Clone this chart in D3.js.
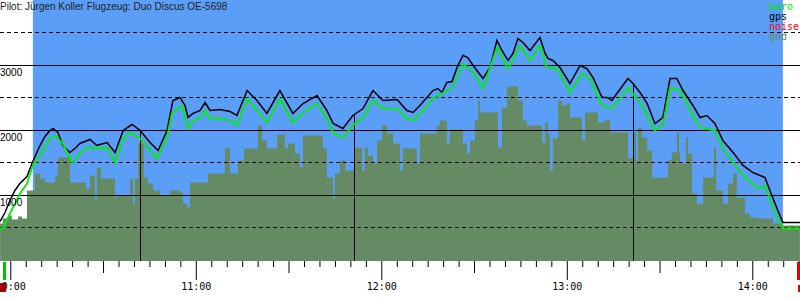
<!DOCTYPE html>
<html>
<head>
<meta charset="utf-8">
<script src="https://cdn.jsdelivr.net/npm/d3@7"></script>
<style>
  body { margin: 0; background: #fff; }
  svg { display: block; }
</style>
</head>
<body>
<div id="chart"></div>
<script>
// times are minutes after 10:00, altitudes in metres
var gpsT   = [-3.3,-1.7,-0.1,1.5,3.1,5.4,7.0,9.6,11.2,12.8,13.8,15.4,17.0,19.3,20.9,22.5,25.8,28.0,29.0,31.3,33.9,36.5,39.4,42.0,45.2,47.8,50.7,52.6,54.9,56.5,57.5,59.1,61.4,63.0,64.6,67.8,71.1,73.3,76.6,79.8,83.0,87.2,91.4,94.7,99.2,102.4,104.4,107.6,110.8,114.1,117.3,120.5,125.1,128.3,130.3,132.5,136.7,138.3,139.6,141.2,142.9,144.5,146.4,148.0,149.7,152.9,155.2,157.4,159.0,161.0,162.6,164.2,165.8,168.1,171.3,173.0,173.9,175.5,177.8,181.0,184.3,186.5,188.5,191.4,193.0,194.6,196.2,199.8,201.4,203.7,206.0,208.5,211.1,213.4,215.6,217.6,220.8,223.1,225.3,227.9,230.5,233.8,237.0,240.2,244.1,245.7,248.0,249.9,250.9,255.4];
var gpsAlt = [600,738,923,1077,1185,1292,1492,1769,1908,2000,2031,1969,1769,1662,1723,1800,1862,1769,1785,1815,1662,2000,2092,2000,1815,1692,2000,2462,2508,2385,2200,2262,2308,2431,2308,2323,2292,2231,2615,2462,2262,2615,2262,2415,2538,2308,2108,2031,2231,2338,2615,2462,2477,2308,2277,2385,2615,2646,2585,2738,2754,2969,3154,3123,3000,2800,2969,3385,3231,3077,3185,3415,3354,3231,3431,3185,3108,3077,2969,2723,3000,2954,2815,2508,2508,2462,2569,2800,2723,2585,2415,2108,2200,2800,2800,2615,2385,2200,2231,2108,1846,1662,1462,1354,1277,1077,800,585,585,585];

var baroT   = [-3.3,-2.4,-0.1,3.1,5.4,7.3,9.6,12.8,14.5,17.0,20.0,23.5,25.8,29.0,31.3,33.9,36.5,38.7,42.0,47.4,50.7,52.3,55.5,57.5,59.1,61.4,63.0,64.6,67.8,71.1,73.3,76.6,79.8,83.0,87.2,91.4,94.7,99.2,102.4,104.4,107.6,110.8,114.1,117.3,120.5,125.1,128.3,130.3,133.5,136.7,143.2,146.4,149.7,152.9,157.4,161.0,164.9,168.1,171.3,173.6,176.8,181.0,184.9,187.5,191.4,194.6,197.2,199.8,203.7,208.5,211.1,213.4,216.6,220.8,223.1,227.9,230.5,237.0,241.8,244.1,246.7,249.9,255.4];
var baroAlt = [492,492,723,1031,1185,1462,1615,1877,1923,1800,1508,1692,1738,1723,1738,1508,1877,1969,1877,1569,1892,2262,2385,2031,2154,2185,2308,2185,2185,2154,2077,2492,2308,2123,2492,2123,2277,2415,2185,1969,1892,2077,2200,2462,2338,2338,2185,2154,2308,2492,2662,3031,2892,2646,3277,2954,3308,3077,3308,2969,2954,2585,2877,2800,2385,2338,2492,2662,2431,2000,2092,2662,2615,2231,2046,2000,1723,1308,1108,1154,815,492,492];

var gndT   = [-3.3,-2.4,-0.7,0.5,2.5,3.8,5.4,8.0,9.6,11.2,14.5,15.4,19.3,24.5,25.8,27.4,28.0,29.3,33.9,34.5,38.7,39.7,40.3,41.3,43.2,44.5,46.2,48.4,51.7,54.9,55.9,57.2,58.1,64.0,69.4,71.1,73.6,75.6,80.1,81.4,83.0,86.3,88.8,89.8,92.1,93.7,94.7,101.1,102.4,104.4,105.0,106.6,108.3,111.5,113.8,114.7,115.7,117.3,118.6,120.2,121.8,123.8,126.0,127.0,131.5,132.5,138.0,139.0,141.2,142.2,146.4,147.7,148.7,150.3,151.3,151.9,157.7,159.0,160.7,164.2,165.8,167.1,172.0,173.0,173.9,174.6,175.5,177.2,178.4,180.1,181.0,184.9,185.9,190.1,192.0,194.0,199.8,201.4,202.4,203.0,204.3,206.0,207.6,212.7,214.0,215.6,216.3,216.6,218.5,219.2,220.5,222.1,224.1,227.6,228.3,230.5,232.1,233.8,235.0,237.6,239.2,241.8,246.7,249.9,255.4];
var gndAlt = [569,646,692,631,677,646,1077,1338,1262,1200,1308,1585,1200,1108,1308,954,1431,1262,969,1000,1262,877,1262,1800,1277,1185,1077,1000,1077,1046,877,815,1200,1338,1723,1338,1538,1723,2077,1846,1723,1938,1723,1800,1646,1431,1923,1723,1277,954,1338,1538,1385,1738,1385,1738,1615,1492,1846,2077,1954,1800,1385,1723,1492,1954,2077,2154,1800,2015,1800,1646,1846,2154,2462,2277,1738,2354,2677,2462,2154,2077,1815,2123,1954,1385,1877,2462,2385,2415,2200,1846,2277,2123,2154,1969,1569,1969,1538,2046,1892,1692,1277,1538,1662,1969,1662,1492,1892,1646,1031,877,1277,1738,1077,877,1185,1338,969,723,662,646,569,538,538];

var turnpoints = [42.0, 111.2, 201.4];
var taskWindow = [7.3, 249.9];
var takeoff = -2.0, landing = 254.9;
var gridSolid = [1000, 2000, 3000];
var gridDashed = [500, 1500, 2500, 3500];
var legendNames = ['baro', 'gps', 'noise', 'gnd'];
var legendColors = ['#00e000', '#000000', '#ff0000', '#658b64'];
var title = 'Pilot: Jürgen Koller Flugzeug: Duo Discus OE-5698';

var width = 800, height = 300, bottom = 261;
var day = new Date(2000, 0, 1, 10, 0, 0);
function at(m) { return new Date(+day + m * 60000); }
function zip(t, a) { return t.map(function (d, i) { return [d, a[i]]; }); }

var svg = d3.select('#chart').append('svg')
    .attr('width', width)
    .attr('height', height);

var x = d3.scaleTime().domain([at(-3.33), at(255.43)]).range([0, width]);
var y = d3.scaleLinear().domain([0, 4000]).range([260.5, 0.5]);

// sky during the task
svg.append('rect')
    .attr('x', x(at(taskWindow[0])))
    .attr('y', 0)
    .attr('width', x(at(taskWindow[1])) - x(at(taskWindow[0])))
    .attr('height', bottom)
    .attr('fill', '#5b9ef7');

// ground elevation
var gndArea = d3.area()
    .x(function (d) { return x(at(d[0])); })
    .y0(bottom)
    .y1(function (d) { return y(d[1]); })
    .curve(d3.curveStepAfter);
svg.append('path').datum(zip(gndT, gndAlt))
    .attr('d', gndArea)
    .attr('fill', '#658b64');

// grid
svg.selectAll('line.solid').data(gridSolid).enter().append('line')
    .attr('class', 'solid')
    .attr('x1', 0).attr('x2', width)
    .attr('y1', function (d) { return Math.round(y(d)) - 0.5; })
    .attr('y2', function (d) { return Math.round(y(d)) - 0.5; })
    .attr('stroke', '#000');
svg.selectAll('line.dashed').data(gridDashed).enter().append('line')
    .attr('class', 'dashed')
    .attr('x1', 0).attr('x2', width)
    .attr('y1', function (d) { return Math.round(y(d)) - 0.5; })
    .attr('y2', function (d) { return Math.round(y(d)) - 0.5; })
    .attr('stroke', '#000')
    .attr('stroke-dasharray', '4,3');

// turnpoint markers, from gps altitude down
function gpsAt(m) {
    var i = d3.bisectRight(gpsT, m);
    if (i <= 0) return gpsAlt[0];
    if (i >= gpsT.length) return gpsAlt[gpsAlt.length - 1];
    var k = (m - gpsT[i - 1]) / (gpsT[i] - gpsT[i - 1]);
    return gpsAlt[i - 1] + k * (gpsAlt[i] - gpsAlt[i - 1]);
}
svg.selectAll('line.tp').data(turnpoints).enter().append('line')
    .attr('class', 'tp')
    .attr('x1', function (d) { return Math.round(x(at(d))) + 0.5; })
    .attr('x2', function (d) { return Math.round(x(at(d))) + 0.5; })
    .attr('y1', function (d) { return y(gpsAt(d)); })
    .attr('y2', bottom)
    .attr('stroke', '#000');

// altitude lines
var line = d3.line()
    .x(function (d) { return x(at(d[0])); })
    .y(function (d) { return y(d[1]); });
svg.append('path').datum(zip(gpsT, gpsAlt))
    .attr('d', line)
    .attr('fill', 'none')
    .attr('stroke', '#000')
    .attr('stroke-width', 1.5);
svg.append('path').datum(zip(baroT, baroAlt))
    .attr('d', line)
    .attr('fill', 'none')
    .attr('stroke', '#00f000')
    .attr('stroke-width', 1.8);

// altitude labels
svg.selectAll('text.ylab').data(gridSolid).enter().append('text')
    .attr('class', 'ylab')
    .attr('x', 0)
    .attr('y', function (d) { return y(d) + 10.5; })
    .style('font', '10px "Liberation Sans", Arial, sans-serif')
    .text(function (d) { return d; });

svg.append('text')
    .attr('x', 0).attr('y', 10)
    .style('font', '10px "Liberation Sans", Arial, sans-serif')
    .attr('fill', '#222')
    .text(title);

// legend
svg.selectAll('text.leg').data(legendNames).enter().append('text')
    .attr('class', 'leg')
    .attr('x', 769)
    .attr('y', function (d, i) { return 10 + i * 10; })
    .style('font', '10px "DejaVu Sans Mono", monospace')
    .attr('fill', function (d, i) { return legendColors[i]; })
    .text(function (d) { return d; });

// time axis, 5 minute ticks
var tickTimes = d3.timeMinute.every(5).range(x.domain()[0], x.domain()[1]);
var fmt = d3.timeFormat('%H:%M');
var xAxis = d3.axisBottom(x)
    .tickValues(tickTimes)
    .tickSize(6)
    .tickFormat(function (d) { return d.getMinutes() === 0 ? fmt(d) : ''; });
var axisG = svg.append('g')
    .attr('transform', 'translate(0,' + bottom + ')')
    .call(xAxis);
axisG.select('.domain').remove();
axisG.selectAll('.tick line')
    .attr('y2', function (d) {
        var m = d.getMinutes();
        return m === 0 ? 19 : (m === 30 ? 12 : 6);
    });
axisG.selectAll('.tick text')
    .attr('y', 29).attr('dy', 0)
    .style('font', '10px "DejaVu Sans Mono", monospace')
    .attr('fill', '#000');

// takeoff and landing flags
svg.append('rect')
    .attr('x', Math.round(x(at(takeoff))) - 1).attr('y', 262)
    .attr('width', 3).attr('height', 18)
    .attr('fill', '#00c000');
svg.append('rect')
    .attr('x', Math.round(x(at(takeoff))) - 4).attr('y', 283)
    .attr('width', 6).attr('height', 9)
    .attr('fill', '#a00000');
svg.append('rect')
    .attr('x', Math.round(x(at(landing))) - 1).attr('y', 262)
    .attr('width', 3).attr('height', 18)
    .attr('fill', '#e00000');
svg.append('rect')
    .attr('x', Math.round(x(at(landing)))).attr('y', 285)
    .attr('width', 2).attr('height', 7)
    .attr('fill', '#e00000');
</script>
</body>
</html>
